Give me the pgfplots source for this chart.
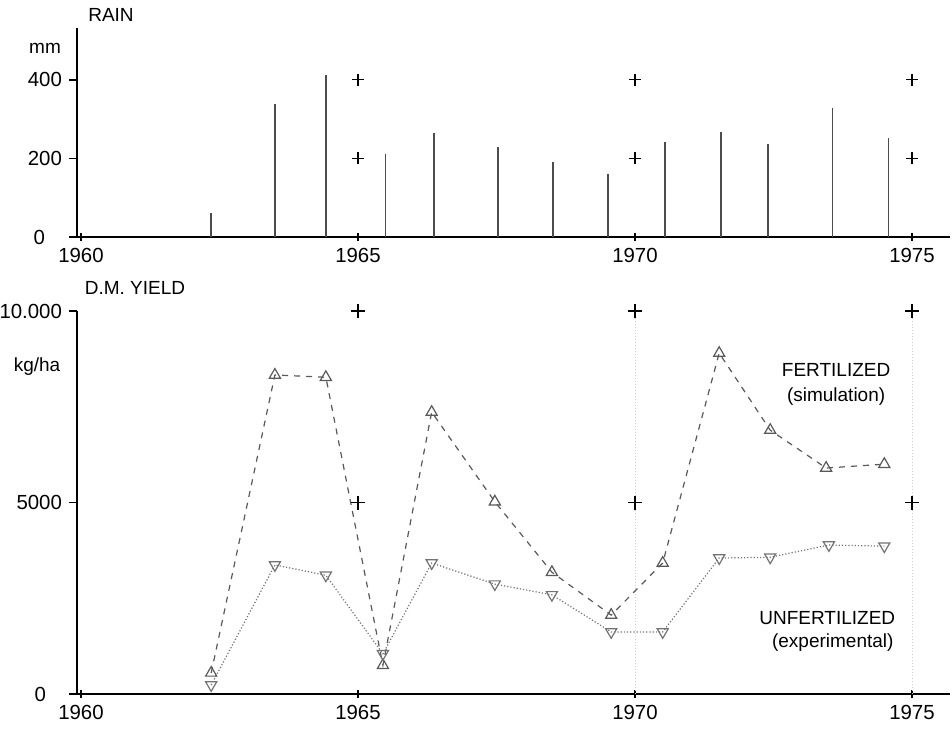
\documentclass[border=0pt]{standalone}
\usepackage{fontspec}
\setmainfont{Liberation Sans}
\usepackage{pgfplots}
\pgfplotsset{compat=1.18}
\pgfplotsset{
  common/.style={
    scale only axis,
    clip=false,
    axis x line=bottom,
    axis y line=left,
    axis line style={line width=1.4pt,-},
    xtick={1960,1965,1970,1975},
    scaled ticks=false,
    tick label style={font=\fontsize{10.2}{12}\selectfont},
    /pgf/number format/assume math mode=true,
    x tick label style={/pgf/number format/set thousands separator={}},
    major tick length=4pt,
    tick style={black,line width=0.7pt},
    xtick align=center,
    ytick align=outside,
    width=436.5pt,
    xmin=1959.928, xmax=1975.686,
  }
}
\begin{document}
\begin{tikzpicture}
\useasboundingbox (0,0) rectangle (476pt,364pt);
\pgfplotstableread{
x y
1962.35 62
1963.50 338
1964.42 413
1965.50 210
1966.37 264
1967.53 228
1968.52 192
1969.51 161
1970.54 241
1971.55 267
1972.40 236
1973.56 328
1974.58 251
}\rain
\pgfplotstableread{
x y
1962.35 550
1963.50 8330
1964.42 8270
1965.45 750
1966.33 7360
1967.47 5020
1968.50 3180
1969.57 2060
1970.50 3420
1971.52 8900
1972.44 6890
1973.45 5900
1974.50 6000
}\fert
\pgfplotstableread{
x y
1962.35 235
1963.50 3370
1964.42 3100
1965.45 1050
1966.33 3420
1967.47 2870
1968.50 2590
1969.57 1620
1970.50 1620
1971.52 3550
1972.44 3570
1973.50 3890
1974.50 3860
}\unfert
% ---------- top: rain ----------
\begin{axis}[common,
  at={(38.5pt,245.5pt)}, anchor=south west,
  height=104.5pt,
  ymin=0, ymax=532,
  ytick={0,200,400},
  yticklabels={{\hbox{0\kern8.5pt}},200,400},
]
\addplot[ycomb, black!70, line width=0.7pt, mark=none] table {\rain};
\addplot[only marks, mark=+, mark size=3pt, black, line width=0.6pt]
  coordinates {(1965,200)(1965,400)(1970,200)(1970,400)(1975,200)(1975,400)};
\end{axis}
% ---------- bottom: yield ----------
\begin{axis}[common,
  at={(38.5pt,17pt)}, anchor=south west,
  height=191.5pt,
  ymin=0, ymax=10000,
  ytick={0,5000,10000},
  yticklabels={{\hbox{0\kern8pt}},5000,10.000},
]
\addplot[gray!40, densely dotted, line width=0.5pt] coordinates {(1970,0)(1970,10000)};
\addplot[gray!40, densely dotted, line width=0.5pt] coordinates {(1975,0)(1975,10000)};
\addplot[only marks, mark=+, mark size=3.5pt, black, line width=0.6pt]
  coordinates {(1965,5000)(1965,10000)(1970,5000)(1970,10000)(1975,5000)(1975,10000)};
\addplot[black!65, dashed, line width=0.6pt, mark=triangle, mark size=3.2pt,
  mark options={solid}] table {\fert};
\addplot[black!55, densely dotted, line width=0.6pt, mark=triangle, mark size=3.2pt,
  mark options={solid, rotate=180}] table {\unfert};
\node[font=\fontsize{9.5}{11}\selectfont] at (axis cs:1973.63,8460) {FERTILIZED};
\node[font=\fontsize{9.5}{11}\selectfont] at (axis cs:1973.63,7755) {(simulation)};
\node[font=\fontsize{9.5}{11}\selectfont] at (axis cs:1973.47,1985) {UNFERTILIZED};
\node[font=\fontsize{9.5}{11}\selectfont] at (axis cs:1973.57,1330) {(experimental)};
\end{axis}
% ---------- titles ----------
\node[font=\fontsize{9.5}{11}\selectfont] at (55.5pt,356.5pt) {RAIN};
\node[font=\fontsize{9.5}{11}\selectfont] at (22.5pt,340pt) {mm};
\node[font=\fontsize{9.5}{11}\selectfont] at (67.5pt,220pt) {D.M. YIELD};
\node[font=\fontsize{9.5}{11}\selectfont] at (18.5pt,180.5pt) {kg/ha};
\end{tikzpicture}
\end{document}
